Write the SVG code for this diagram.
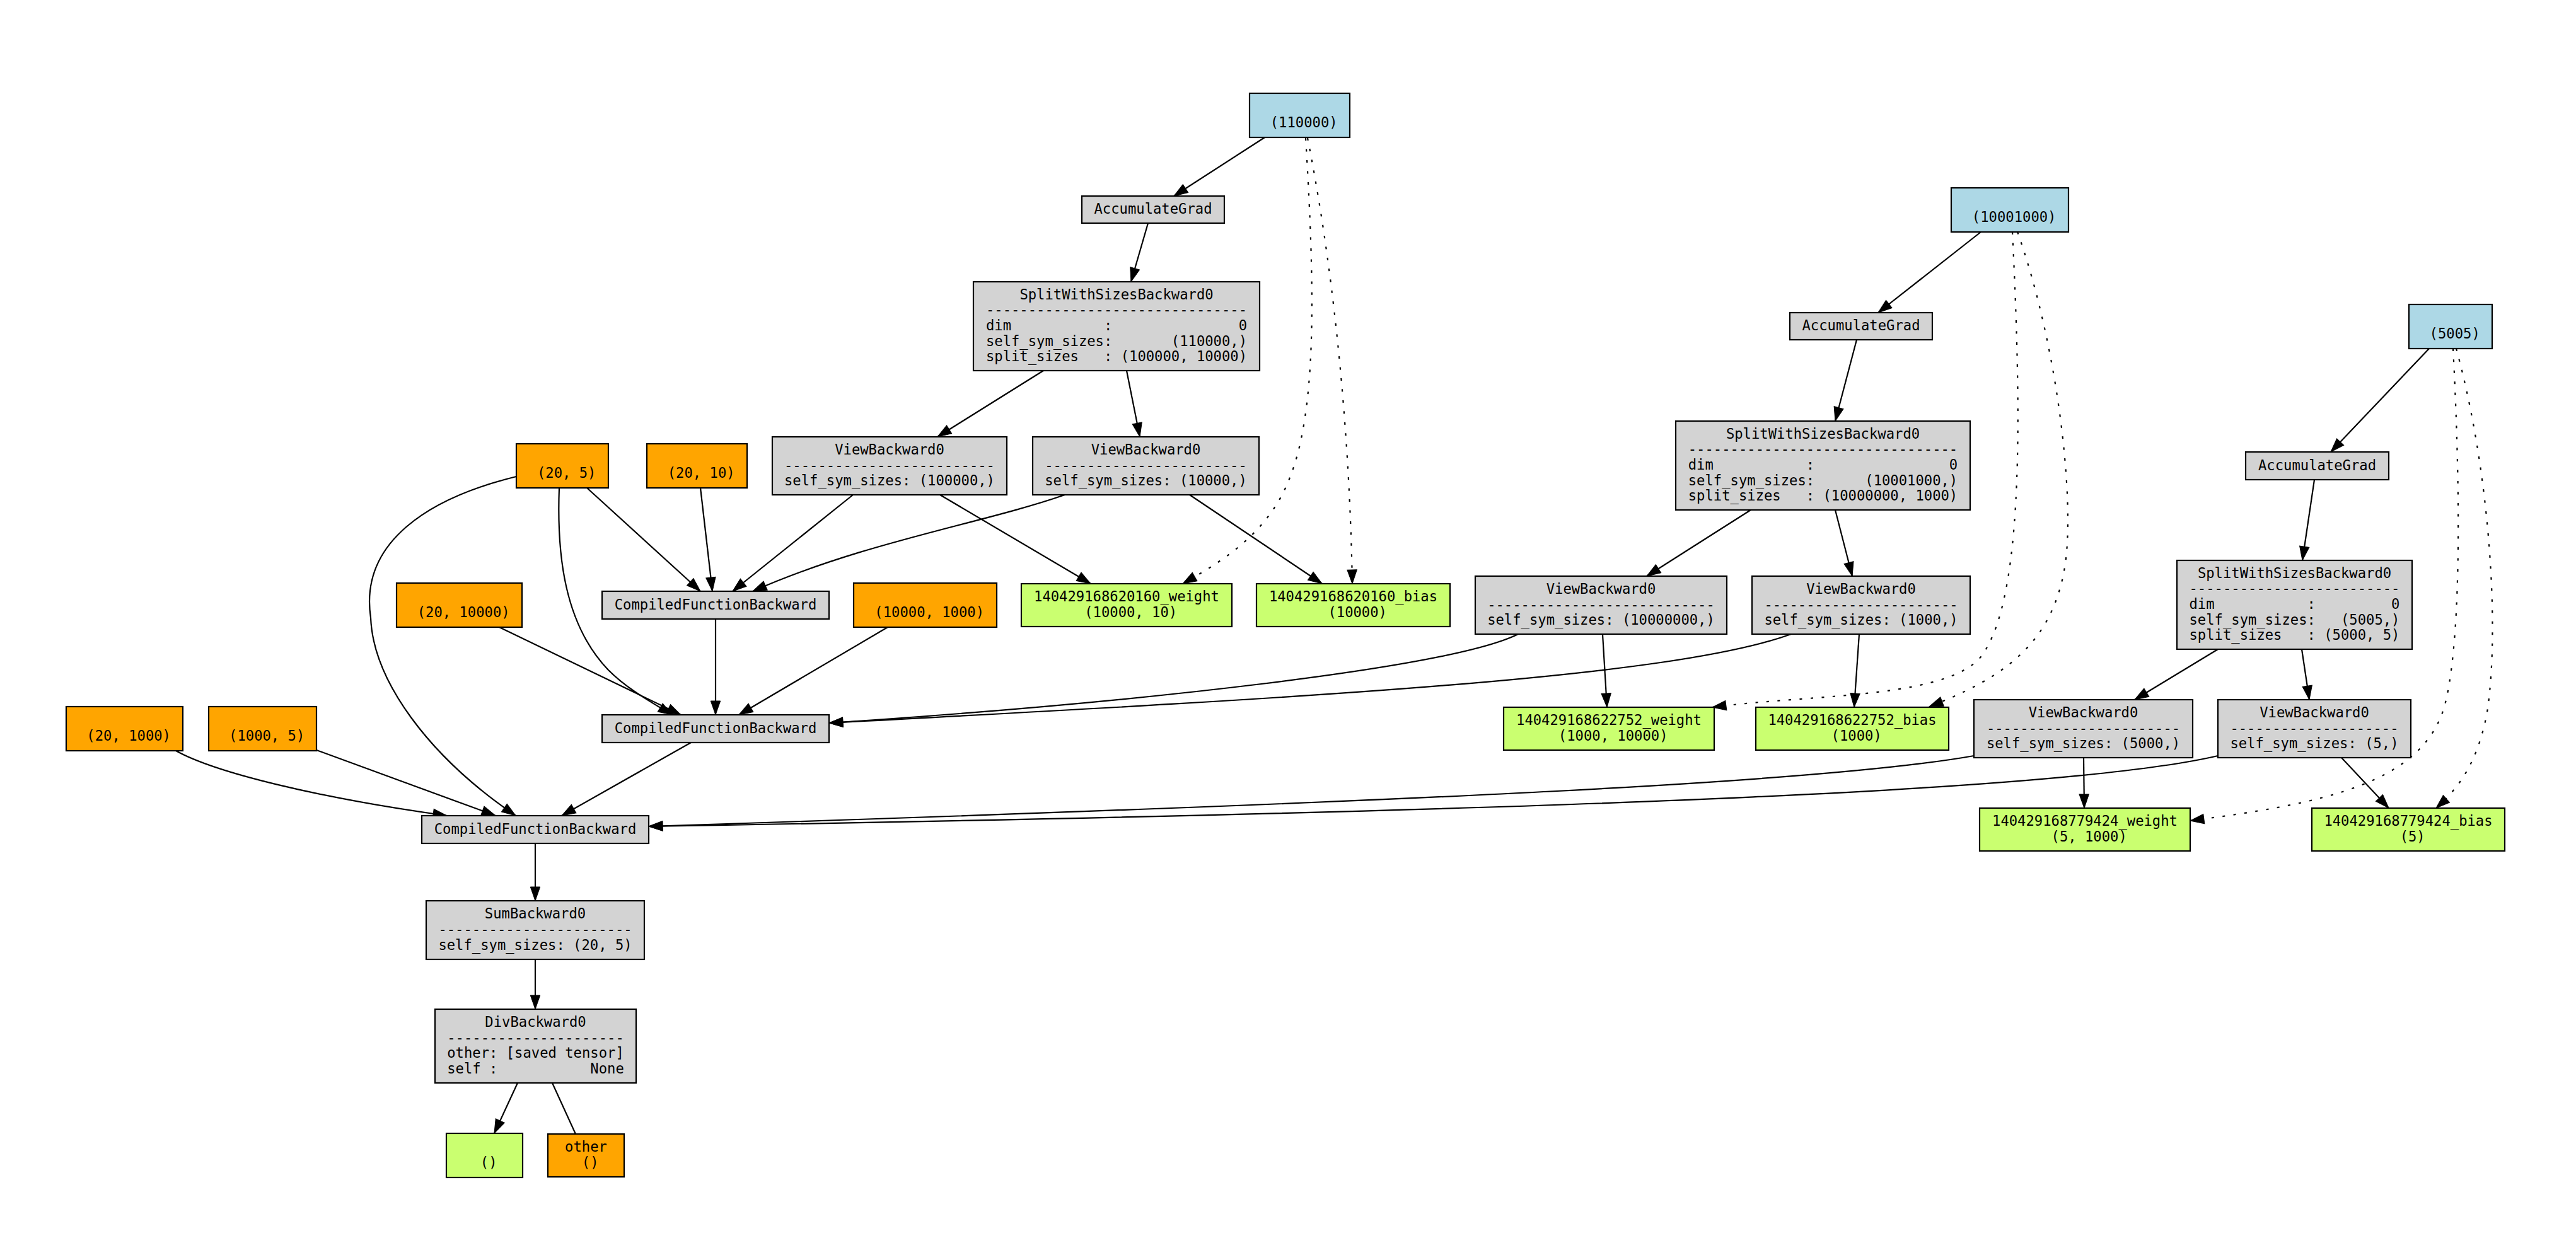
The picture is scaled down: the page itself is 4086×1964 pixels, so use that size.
<svg xmlns="http://www.w3.org/2000/svg" width="4086" height="1964" viewBox="0 0 4086 1964" xml:space="preserve">
<style>
.n rect{stroke:#000;stroke-width:2.2}
.gray{fill:#d3d3d3}.blue{fill:#add8e6}.orange{fill:#ffa500}.green{fill:#caff70}
text{font-family:"DejaVu Sans Mono","Liberation Mono",monospace;font-size:22.2px;text-anchor:middle;white-space:pre;fill:#000}
.e{fill:none;stroke:#000;stroke-width:2.2;marker-end:url(#ah)}
.d{stroke-dasharray:4 13.5}
.na{marker-end:none}
</style>
<defs>
<marker id="ah" markerUnits="userSpaceOnUse" markerWidth="24" markerHeight="17" refX="22" refY="7.7" orient="auto" overflow="visible">
<path d="M0,0 L22,7.7 L0,15.4 Z" fill="#000" stroke="#000" stroke-width="1"/>
</marker>
</defs>
<rect x="0" y="0" width="4086" height="1964" fill="#fff"/>

<g id="connectors">
<path class="e" d="M2006,218 L1862,311"/>
<path class="e" d="M1821,354 L1794,447"/>
<path class="e" d="M1655,588 L1487,693"/>
<path class="e" d="M1787,588 L1808,693"/>
<path class="e d" d="M2071,219 C2085,450 2090,650 2045,760 C2010,850 1930,895 1876,926"/>
<path class="e d" d="M2074,219 C2110,400 2140,650 2145,926"/>
<path class="e" d="M1491,785 L1730,926"/>
<path class="e" d="M1887,785 L2097,926"/>
<path class="e" d="M1353,785 L1162,938"/>
<path class="e" d="M1689,785 C1560,830 1370,860 1194,938"/>
<path class="e" d="M931,774 L1111,938"/>
<path class="e" d="M1111,774 L1130,938"/>
<path class="e" d="M1135,982 L1135,1134"/>
<path class="e" d="M887,774 C883,880 895,990 965,1063 C995,1093 1030,1112 1066,1134"/>
<path class="e" d="M792,995 L1080,1134"/>
<path class="e" d="M1408,995 L1172,1134"/>
<path class="e" d="M2408,1006 C2300,1060 1800,1115 1315,1147"/>
<path class="e" d="M2841,1006 C2650,1075 2100,1105 1315,1147"/>
<path class="e" d="M2542,1006 L2549,1122"/>
<path class="e" d="M2949,1006 L2941,1122"/>
<path class="e" d="M3142,368 L2979,496"/>
<path class="e" d="M2945,539 L2911,668"/>
<path class="e" d="M2777,809 L2612,914"/>
<path class="e" d="M2911,809 L2938,914"/>
<path class="e d" d="M3192,368 C3206,650 3210,930 3150,1030 C3110,1110 2880,1100 2716,1122"/>
<path class="e d" d="M3200,368 C3265,550 3292,800 3275,900 C3255,1020 3180,1075 3060,1121"/>
<path class="e" d="M3853,553 L3697,717"/>
<path class="e" d="M3671,761 L3652,889"/>
<path class="e" d="M3518,1030 L3386,1110"/>
<path class="e" d="M3651,1030 L3663,1110"/>
<path class="e" d="M3305,1202 L3306,1282"/>
<path class="e" d="M3714,1202 L3789,1282"/>
<path class="e d" d="M3891,553 C3902,760 3905,1000 3880,1110 C3850,1245 3680,1275 3474,1302"/>
<path class="e d" d="M3896,553 C3950,750 3965,1000 3945,1130 C3930,1210 3900,1250 3864,1282"/>
<path class="e" d="M3131,1199 C2900,1240 2300,1270 1029,1311"/>
<path class="e" d="M3518,1199 C3300,1250 2600,1285 1029,1311"/>
<path class="e" d="M1096,1178 L891,1294"/>
<path class="e" d="M279,1191 C340,1225 500,1265 709,1294"/>
<path class="e" d="M502,1190 L786,1294"/>
<path class="e" d="M819,756 C680,790 570,860 588,980 C592,1080 680,1200 818,1294"/>
<path class="e" d="M849,1338 L849,1429"/>
<path class="e" d="M849,1522 L849,1601"/>
<path class="e" d="M821,1718 L784,1798"/>
<path class="e na" d="M876,1718 L913,1799"/>
</g>

<g id="n_p1" class="n"><rect class="blue" x="1982" y="148" width="159" height="70"/><text x="2061.5" y="201.8"> (110000)</text></g>
<g id="n_p2" class="n"><rect class="blue" x="3095" y="298" width="186" height="70"/><text x="3188" y="351.8"> (10001000)</text></g>
<g id="n_p3" class="n"><rect class="blue" x="3821" y="483" width="132" height="70"/><text x="3887" y="536.8"> (5005)</text></g>

<g id="n_acc1" class="n"><rect class="gray" x="1716" y="311" width="226" height="43"/><text x="1829" y="339">AccumulateGrad</text></g>
<g id="n_acc2" class="n"><rect class="gray" x="2839" y="496" width="226" height="43"/><text x="2952" y="524">AccumulateGrad</text></g>
<g id="n_acc3" class="n"><rect class="gray" x="3562" y="717" width="227" height="44"/><text x="3675.5" y="745.5">AccumulateGrad</text></g>

<g id="n_split1" class="n"><rect class="gray" x="1544" y="447" width="454" height="141"/>
<text x="1771" y="474.8">SplitWithSizesBackward0</text>
<text x="1771" y="499.4">-------------------------------</text>
<text x="1771" y="524">dim           :               0</text>
<text x="1771" y="548.6">self_sym_sizes:       (110000,)</text>
<text x="1771" y="573.2">split_sizes   : (100000, 10000)</text></g>

<g id="n_split2" class="n"><rect class="gray" x="2658" y="668" width="467" height="141"/>
<text x="2891.5" y="695.8">SplitWithSizesBackward0</text>
<text x="2891.5" y="720.4">--------------------------------</text>
<text x="2891.5" y="745">dim           :                0</text>
<text x="2891.5" y="769.6">self_sym_sizes:      (10001000,)</text>
<text x="2891.5" y="794.2">split_sizes   : (10000000, 1000)</text></g>

<g id="n_split3" class="n"><rect class="gray" x="3453" y="889" width="373" height="141"/>
<text x="3639.5" y="916.8">SplitWithSizesBackward0</text>
<text x="3639.5" y="941.4">-------------------------</text>
<text x="3639.5" y="966">dim           :         0</text>
<text x="3639.5" y="990.6">self_sym_sizes:   (5005,)</text>
<text x="3639.5" y="1015.2">split_sizes   : (5000, 5)</text></g>

<g id="n_view1" class="n"><rect class="gray" x="1225" y="693" width="372" height="92"/>
<text x="1411" y="720.9">ViewBackward0</text>
<text x="1411" y="745.5">-------------------------</text>
<text x="1411" y="770.1">self_sym_sizes: (100000,)</text></g>
<g id="n_view2" class="n"><rect class="gray" x="1638" y="693" width="359" height="92"/>
<text x="1817.5" y="720.9">ViewBackward0</text>
<text x="1817.5" y="745.5">------------------------</text>
<text x="1817.5" y="770.1">self_sym_sizes: (10000,)</text></g>
<g id="n_view3" class="n"><rect class="gray" x="2340" y="914" width="399" height="92"/>
<text x="2539.5" y="941.9">ViewBackward0</text>
<text x="2539.5" y="966.5">---------------------------</text>
<text x="2539.5" y="991.1">self_sym_sizes: (10000000,)</text></g>
<g id="n_view4" class="n"><rect class="gray" x="2779" y="914" width="346" height="92"/>
<text x="2952" y="941.9">ViewBackward0</text>
<text x="2952" y="966.5">-----------------------</text>
<text x="2952" y="991.1">self_sym_sizes: (1000,)</text></g>
<g id="n_view5" class="n"><rect class="gray" x="3131" y="1110" width="347" height="92"/>
<text x="3304.5" y="1137.9">ViewBackward0</text>
<text x="3304.5" y="1162.5">-----------------------</text>
<text x="3304.5" y="1187.1">self_sym_sizes: (5000,)</text></g>
<g id="n_view6" class="n"><rect class="gray" x="3518" y="1110" width="306" height="92"/>
<text x="3671" y="1137.9">ViewBackward0</text>
<text x="3671" y="1162.5">--------------------</text>
<text x="3671" y="1187.1">self_sym_sizes: (5,)</text></g>

<g id="n_in205" class="n"><rect class="orange" x="819" y="704" width="146" height="70"/><text x="892" y="757.8"> (20, 5)</text></g>
<g id="n_in2010" class="n"><rect class="orange" x="1026" y="704" width="159" height="70"/><text x="1105.5" y="757.8"> (20, 10)</text></g>
<g id="n_in2010000" class="n"><rect class="orange" x="629" y="925" width="199" height="70"/><text x="728.5" y="978.8"> (20, 10000)</text></g>
<g id="n_in100001000" class="n"><rect class="orange" x="1354" y="925" width="227" height="70"/><text x="1467.5" y="978.8"> (10000, 1000)</text></g>
<g id="n_in201000" class="n"><rect class="orange" x="105" y="1121" width="185" height="70"/><text x="197.5" y="1174.8"> (20, 1000)</text></g>
<g id="n_in10005" class="n"><rect class="orange" x="331" y="1121" width="171" height="70"/><text x="416.5" y="1174.8"> (1000, 5)</text></g>

<g id="n_w1" class="n"><rect class="green" x="1620" y="926" width="334" height="68"/><text x="1787" y="954.2">140429168620160_weight</text><text x="1787" y="978.8"> (10000, 10)</text></g>
<g id="n_b1" class="n"><rect class="green" x="1993" y="926" width="307" height="68"/><text x="2146.5" y="954.2">140429168620160_bias</text><text x="2146.5" y="978.8"> (10000)</text></g>
<g id="n_w2" class="n"><rect class="green" x="2385" y="1122" width="334" height="68"/><text x="2552" y="1150.2">140429168622752_weight</text><text x="2552" y="1174.8"> (1000, 10000)</text></g>
<g id="n_b2" class="n"><rect class="green" x="2785" y="1122" width="306" height="68"/><text x="2938" y="1150.2">140429168622752_bias</text><text x="2938" y="1174.8"> (1000)</text></g>
<g id="n_w3" class="n"><rect class="green" x="3140" y="1282" width="334" height="68"/><text x="3307" y="1310.2">140429168779424_weight</text><text x="3307" y="1334.8"> (5, 1000)</text></g>
<g id="n_b3" class="n"><rect class="green" x="3667" y="1282" width="306" height="68"/><text x="3820" y="1310.2">140429168779424_bias</text><text x="3820" y="1334.8"> (5)</text></g>

<g id="n_cfb1" class="n"><rect class="gray" x="955" y="938" width="360" height="44"/><text x="1135" y="966.5">CompiledFunctionBackward</text></g>
<g id="n_cfb2" class="n"><rect class="gray" x="955" y="1134" width="360" height="44"/><text x="1135" y="1162.5">CompiledFunctionBackward</text></g>
<g id="n_cfb3" class="n"><rect class="gray" x="669" y="1294" width="360" height="44"/><text x="849" y="1322.5">CompiledFunctionBackward</text></g>

<g id="n_sum" class="n"><rect class="gray" x="676" y="1429" width="346" height="93"/>
<text x="849" y="1457.4">SumBackward0</text>
<text x="849" y="1482">-----------------------</text>
<text x="849" y="1506.6">self_sym_sizes: (20, 5)</text></g>

<g id="n_div" class="n"><rect class="gray" x="690" y="1601" width="319" height="117"/>
<text x="849.5" y="1629.1">DivBackward0</text>
<text x="849.5" y="1653.7">---------------------</text>
<text x="849.5" y="1678.3">other: [saved tensor]</text>
<text x="849.5" y="1702.9">self :           None</text></g>

<g id="n_out" class="n"><rect class="green" x="708" y="1798" width="121" height="70"/><text x="768.5" y="1851.8"> ()</text></g>
<g id="n_other" class="n"><rect class="orange" x="869" y="1799" width="121" height="68"/><text x="929.5" y="1827.2">other</text><text x="929.5" y="1851.8"> ()</text></g>
</svg>
